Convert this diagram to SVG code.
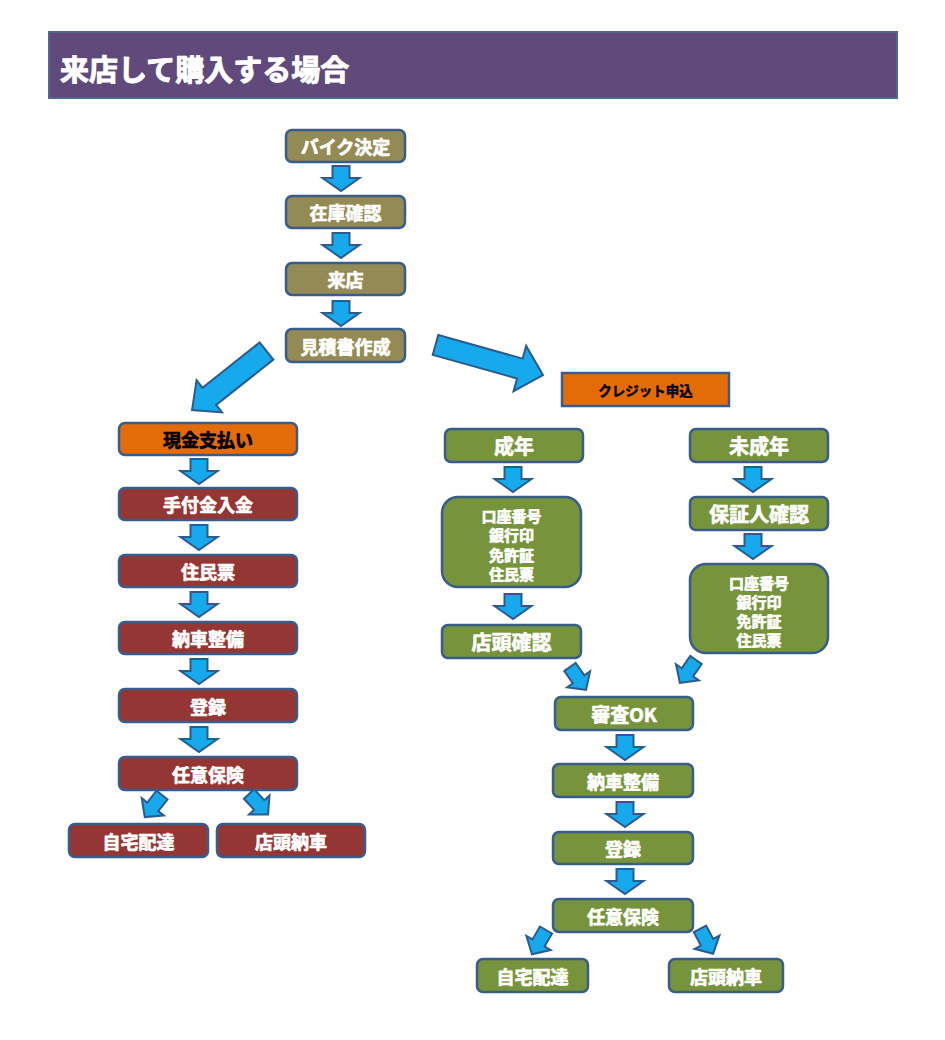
<svg xmlns="http://www.w3.org/2000/svg" xmlns:xlink="http://www.w3.org/1999/xlink" width="945" height="1040" viewBox="0 0 945 1040">
<style>
text{font-family:"Noto Sans CJK JP","Noto Sans CJK SC",sans-serif;font-weight:bold;text-anchor:middle;dominant-baseline:central;stroke-width:0.7;stroke-linejoin:round}
.b{stroke:#385d8a;stroke-width:2.5}
.ol{fill:#948a54}
.rd{fill:#943634}
.or{fill:#e36c09}
.gr{fill:#77933c}
.w{fill:#ffffff;stroke:#ffffff;font-size:18px}
.wl{fill:#ffffff;stroke:#ffffff;font-size:20px}
.k{fill:#000000;stroke:#000000;font-size:18px}
.s{fill:#ffffff;stroke:#ffffff;font-size:15px}
.arr{fill:#16a9ec;stroke:#2d5b8c;stroke-width:2;stroke-linejoin:miter}
</style>
<defs>
<polygon id="dn" points="-8.5,0 8.5,0 8.5,12 18.5,12 0,25 -18.5,12 -8.5,12" class="arr"/>
<polygon id="sm" points="0,-7 15,-7 15,-14 28,0 15,14 15,7 0,7" class="arr"/>
</defs>
<rect width="945" height="1040" fill="#ffffff"/>
<g id="title">
<rect x="49" y="32" width="848" height="66" fill="#604a7b" stroke="#4f6792" stroke-width="2"/>
<text x="60" y="68" style="text-anchor:start;font-size:29px;fill:#ffffff;stroke:#ffffff;stroke-width:1">来店して購入する場合</text>
</g>
<g id="connectors">
<use xlink:href="#dn" x="341" y="166"/>
<use xlink:href="#dn" x="341" y="233"/>
<use xlink:href="#dn" x="341" y="301"/>
<polygon class="arr" transform="translate(266.5,351) rotate(141.6)" points="0,-11 73,-11 73,-20.5 95,0 73,20.5 73,11 0,11"/>
<polygon class="arr" transform="translate(435.5,345) rotate(15.6)" points="0,-10.3 87.6,-10.3 87.6,-23.5 111.6,0 87.6,23.5 87.6,10.3 0,10.3"/>
<use xlink:href="#dn" x="199" y="459"/>
<use xlink:href="#dn" x="199" y="525"/>
<use xlink:href="#dn" x="199" y="592"/>
<use xlink:href="#dn" x="199" y="659"/>
<use xlink:href="#dn" x="199" y="727"/>
<use xlink:href="#sm" transform="translate(162,795) rotate(128)"/>
<use xlink:href="#sm" transform="translate(249,794) rotate(47)"/>
<use xlink:href="#dn" x="513" y="467"/>
<use xlink:href="#dn" x="513" y="594"/>
<use xlink:href="#dn" x="753" y="467"/>
<use xlink:href="#dn" x="753" y="534"/>
<use xlink:href="#sm" transform="translate(570,667) rotate(55)"/>
<use xlink:href="#sm" transform="translate(696,660) rotate(125)"/>
<use xlink:href="#dn" x="625" y="735"/>
<use xlink:href="#dn" x="625" y="802"/>
<use xlink:href="#dn" x="625" y="869"/>
<use xlink:href="#sm" transform="translate(546,930) rotate(120)"/>
<use xlink:href="#sm" transform="translate(700,929) rotate(62)"/>
</g>
<g id="n-bike"><rect class="b ol" x="286" y="130" width="119" height="32" rx="6"/><text class="w" x="345.5" y="146">バイク決定</text></g>
<g id="n-zaiko"><rect class="b ol" x="286" y="196" width="119" height="32" rx="6"/><text class="w" x="345.5" y="212">在庫確認</text></g>
<g id="n-raiten"><rect class="b ol" x="286" y="263" width="119" height="32" rx="6"/><text class="w" x="345.5" y="279">来店</text></g>
<g id="n-mitsumori"><rect class="b ol" x="286" y="329" width="119" height="33" rx="6"/><text class="w" x="345.5" y="345.5">見積書作成</text></g>
<g id="n-genkin"><rect class="b or" x="119" y="423" width="178" height="32" rx="6"/><text class="k" x="208" y="439">現金支払い</text></g>
<g id="n-tetsuke"><rect class="b rd" x="119" y="488" width="178" height="32" rx="6"/><text class="w" x="208" y="504">手付金入金</text></g>
<g id="n-jumin1"><rect class="b rd" x="119" y="555" width="178" height="32" rx="6"/><text class="w" x="208" y="571">住民票</text></g>
<g id="n-nosha1"><rect class="b rd" x="119" y="622" width="178" height="32" rx="6"/><text class="w" x="208" y="638">納車整備</text></g>
<g id="n-toroku1"><rect class="b rd" x="119" y="689" width="178" height="33" rx="6"/><text class="w" x="208" y="705.5">登録</text></g>
<g id="n-nini1"><rect class="b rd" x="119" y="757" width="178" height="33" rx="6"/><text class="w" x="208" y="773.5">任意保険</text></g>
<g id="n-jitaku1"><rect class="b rd" x="69" y="824" width="139" height="33" rx="6"/><text class="w" x="138.5" y="840.5">自宅配達</text></g>
<g id="n-tento1"><rect class="b rd" x="217" y="824" width="148" height="33" rx="6"/><text class="w" x="291" y="840.5">店頭納車</text></g>
<g id="n-credit"><rect class="b or" x="562" y="373" width="167" height="33"/><text x="645.5" y="389.5" style="fill:#000;stroke:#000;stroke-width:0.4;font-size:13.5px">クレジット申込</text></g>
<g id="n-seinen"><rect class="b gr" x="445" y="429" width="138" height="33" rx="6"/><text class="wl" x="514" y="445.5">成年</text></g>
<g id="n-docs1"><rect class="b gr" x="442" y="497" width="139" height="90" rx="16"/>
<text class="s" x="511.5" y="515">口座番号</text><text class="s" x="511.5" y="534.5">銀行印</text><text class="s" x="511.5" y="554">免許証</text><text class="s" x="511.5" y="573">住民票</text></g>
<g id="n-tentokakunin"><rect class="b gr" x="442" y="625" width="139" height="33" rx="6"/><text class="wl" x="511.5" y="641.5">店頭確認</text></g>
<g id="n-miseinen"><rect class="b gr" x="690" y="429" width="138" height="33" rx="6"/><text class="wl" x="759" y="445.5">未成年</text></g>
<g id="n-hosho"><rect class="b gr" x="690" y="497" width="138" height="33" rx="6"/><text class="wl" x="759" y="513.5">保証人確認</text></g>
<g id="n-docs2"><rect class="b gr" x="690" y="564" width="138" height="89" rx="16"/>
<text class="s" x="759" y="582">口座番号</text><text class="s" x="759" y="601.5">銀行印</text><text class="s" x="759" y="620.5">免許証</text><text class="s" x="759" y="639.5">住民票</text></g>
<g id="n-shinsa"><rect class="b gr" x="555" y="697" width="138" height="33" rx="6"/><text class="w" x="624" y="713.5" style="font-size:19px">審査OK</text></g>
<g id="n-nosha2"><rect class="b gr" x="553" y="764" width="140" height="33" rx="6"/><text class="w" x="623" y="780.5">納車整備</text></g>
<g id="n-toroku2"><rect class="b gr" x="553" y="832" width="140" height="32" rx="6"/><text class="w" x="623" y="848">登録</text></g>
<g id="n-nini2"><rect class="b gr" x="553" y="899" width="140" height="33" rx="6"/><text class="w" x="623" y="915.5">任意保険</text></g>
<g id="n-jitaku2"><rect class="b gr" x="477" y="959" width="111" height="33" rx="6"/><text class="w" x="532.5" y="975.5">自宅配達</text></g>
<g id="n-tento2"><rect class="b gr" x="669" y="959" width="114" height="33" rx="6"/><text class="w" x="726" y="975.5">店頭納車</text></g>
</svg>
